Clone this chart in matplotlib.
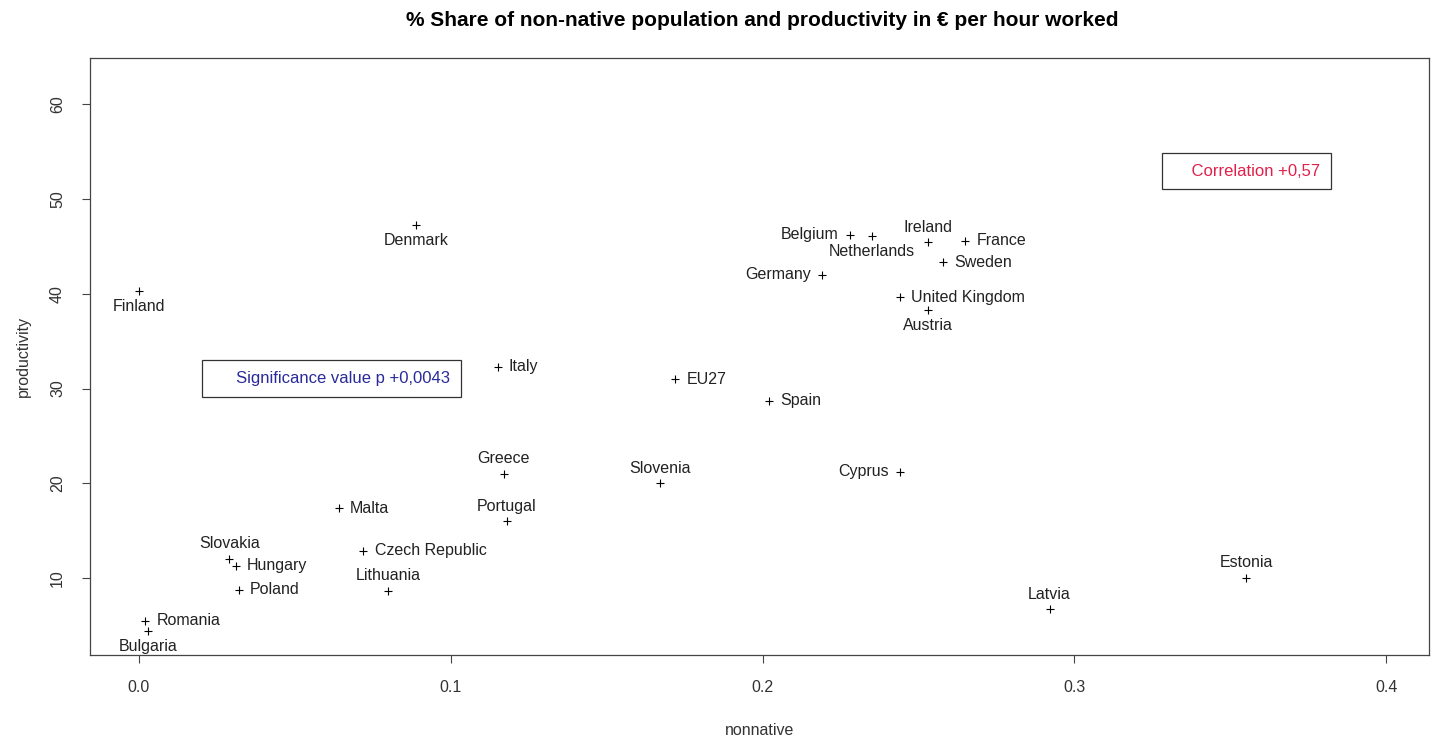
import matplotlib
matplotlib.use("Agg")
import matplotlib.pyplot as plt

plt.rcParams['font.family'] = ['Liberation Sans', 'DejaVu Sans']

# share of non-native population vs productivity (EUR per hour worked)
countries = ["Finland", "Denmark", "Italy", "EU27", "Spain", "Greece", "Slovenia",
             "Cyprus", "Portugal", "Malta", "Czech Republic", "Lithuania", "Slovakia",
             "Hungary", "Poland", "Romania", "Bulgaria", "Latvia", "Estonia",
             "Belgium", "Netherlands", "Ireland", "France", "Sweden", "Germany",
             "United Kingdom", "Austria"]
nonnative = [0.000, 0.089, 0.115, 0.172, 0.202, 0.117, 0.167,
             0.244, 0.118, 0.064, 0.072, 0.080, 0.029,
             0.031, 0.032, 0.002, 0.003, 0.292, 0.355,
             0.228, 0.235, 0.253, 0.265, 0.258, 0.219,
             0.244, 0.253]
productivity = [40.3, 47.2, 32.3, 31.0, 28.7, 21.0, 20.0,
                21.2, 16.0, 17.4, 12.9, 8.7, 12.0,
                11.3, 8.8, 5.5, 4.4, 6.7, 10.0,
                46.2, 46.1, 45.4, 45.6, 43.3, 42.0,
                39.6, 38.3]

# label side as in R text(pos=): 1 below, 2 left, 3 above, 4 right
label_pos = {"Finland": 1, "Denmark": 1, "Italy": 4, "EU27": 4, "Spain": 4,
             "Greece": 3, "Slovenia": 3, "Cyprus": 2, "Portugal": 3, "Malta": 4,
             "Czech Republic": 4, "Lithuania": 3, "Slovakia": 3, "Hungary": 4,
             "Poland": 4, "Romania": 4, "Bulgaria": 1, "Latvia": 3, "Estonia": 3,
             "Belgium": 2, "Netherlands": 1, "Ireland": 3, "France": 4,
             "Sweden": 4, "Germany": 2, "United Kingdom": 4, "Austria": 1}

correlation_text = "Correlation +0,57"
significance_text = "Significance value p +0,0043"

fig = plt.figure(figsize=(14.33, 7.38), dpi=100)
ax = fig.add_axes([90 / 1433, 83 / 738, 1339 / 1433, 597 / 738])

ax.scatter(nonnative, productivity, marker='+', s=30, color='black', linewidths=0.8)

offsets = {1: (0, -11, 'center'), 2: (-8, 0, 'right'),
           3: (0, 11, 'center'), 4: (8, 0, 'left')}
for name, x, y in zip(countries, nonnative, productivity):
    dx, dy, ha = offsets[label_pos[name]]
    ax.annotate(name, (x, y), xytext=(dx, dy), textcoords='offset points',
                ha=ha, va='center', fontsize=11.5, color='#222222')

ax.set_xlim(-0.0157, 0.4137)
ax.set_ylim(1.9, 64.85)
ax.set_xticks([0.0, 0.1, 0.2, 0.3, 0.4])
ax.set_xticklabels(["0.0", "0.1", "0.2", "0.3", "0.4"])
ax.set_yticks([10, 20, 30, 40, 50, 60])
ax.tick_params(axis='both', direction='out', length=6, width=0.8, colors='#444444',
               labelsize=11.5, labelcolor='#333333', pad=12)
for lbl in ax.get_yticklabels():
    lbl.set_rotation(90)
    lbl.set_va('center')
for sp in ax.spines.values():
    sp.set_color('#444444')
    sp.set_linewidth(0.9)

ax.set_xlabel("nonnative", fontsize=11.5, color='#333333', labelpad=20)
ax.set_ylabel("productivity", fontsize=11.5, color='#333333', labelpad=14)
fig.suptitle("% Share of non-native population and productivity in \u20ac per hour worked",
             fontsize=15, fontweight='bold', x=0.532, y=0.985)

box = dict(boxstyle='square,pad=0.65', facecolor='white', edgecolor='#333333', linewidth=0.9)
ax.text(0.9186, 0.8107, "    " + correlation_text, transform=ax.transAxes,
        ha='right', va='center', fontsize=12, color='#e0204a', bbox=box)
ax.text(0.2689, 0.4630, "     " + significance_text, transform=ax.transAxes,
        ha='right', va='center', fontsize=12, color='#2a2a9a', bbox=box)

fig.savefig("out.png", dpi=100)
